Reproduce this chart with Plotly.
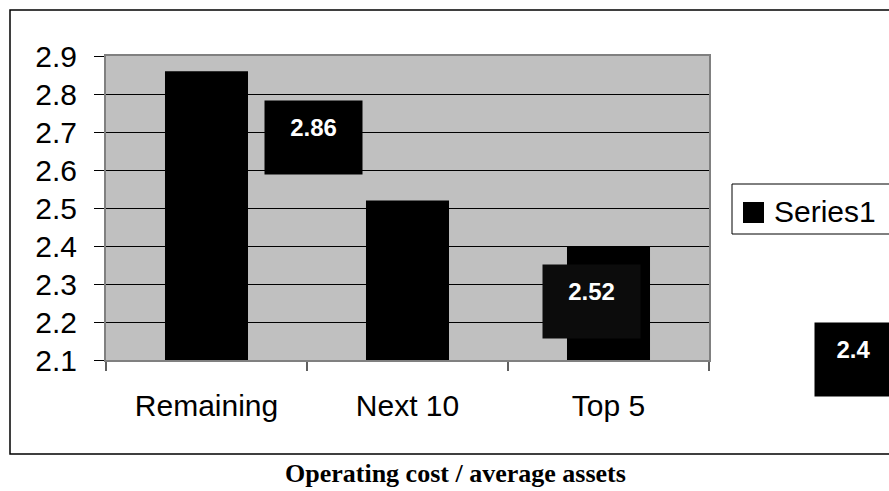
import plotly.graph_objects as go

# ---- data ----
categories = ["Remaining", "Next 10", "Top 5"]
values = [2.86, 2.52, 2.4]
label_texts = ["2.86", "2.52", "2.4"]
series_name = "Series1"
caption = "Operating cost / average assets"
y_ticks = [2.1, 2.2, 2.3, 2.4, 2.5, 2.6, 2.7, 2.8, 2.9]

# ---- layout geometry (pixels) ----
W, H = 889, 491
L, R, T, B = 106, 180, 56, 131
PW, PH = W - L - R, H - T - B


def px(xp):
    return (xp - L) / PW


def py(yp):
    return (H - B - yp) / PH


SANS = "Liberation Sans, Arial, sans-serif"
SERIF = "Liberation Serif, Times New Roman, serif"

fig = go.Figure()
fig.add_trace(go.Bar(
    x=categories, y=values, name=series_name,
    marker=dict(color="#000000", line=dict(width=0)),
    showlegend=False,
))

# data label boxes (dragged positions as in the original)
label_shift = [(57, -29), (134, -64), (205, -76)]
label_width = [97, 97, 77]
label_bg = ["#000000", "#0c0c0c", "#000000"]
pad = 13
annotations = []
for c, v, t, (dx, dy), w, bg in zip(categories, values, label_texts, label_shift, label_width, label_bg):
    annotations.append(dict(
        x=c, y=v, xref="x", yref="y", text="<b>%s</b>" % t, showarrow=False,
        xanchor="left", yanchor="top", xshift=dx, yshift=dy,
        width=w - 2 * pad, height=73 - 2 * pad, borderpad=pad, valign="top", align="center",
        bgcolor=bg, font=dict(family=SANS, size=24, color="white"),
    ))

# legend text
annotations.append(dict(
    x=px(772), y=py(211), xref="paper", yref="paper", text=series_name,
    showarrow=False, xanchor="left", yanchor="middle",
    font=dict(family=SANS, size=30, color="black"),
))
# caption
annotations.append(dict(
    x=px(455.5), y=py(473), xref="paper", yref="paper", text="<b>%s</b>" % caption,
    showarrow=False, xanchor="center", yanchor="middle",
    font=dict(family=SERIF, size=26, color="black"),
))

shapes = [
    # outer chart border
    dict(type="rect", xref="paper", yref="paper", x0=px(10), x1=px(900), y0=py(454), y1=py(10),
         line=dict(color="black", width=1.5), layer="below"),
    # legend box
    dict(type="rect", xref="paper", yref="paper", x0=px(732), x1=px(900), y0=py(234), y1=py(184),
         line=dict(color="black", width=1), fillcolor="white"),
    # legend key
    dict(type="rect", xref="paper", yref="paper", x0=px(743), x1=px(764), y0=py(223), y1=py(202),
         line=dict(width=0), fillcolor="black"),
]

fig.update_layout(
    width=W, height=H,
    margin=dict(l=L, r=R, t=T, b=B, autoexpand=False),
    paper_bgcolor="white", plot_bgcolor="#c0c0c0",
    bargap=0.587,
    showlegend=False,
    annotations=annotations, shapes=shapes,
    font=dict(family=SANS, size=30, color="black"),
)
fig.update_yaxes(
    range=[2.1, 2.9], autorange=False, tickvals=y_ticks, tickformat=".1f",
    showgrid=True, gridcolor="black", gridwidth=1,
    ticks="outside", ticklen=10, tickcolor="black", tickwidth=1,
    showline=True, linecolor="#808080", linewidth=2, mirror=True,
    tickfont=dict(family=SANS, size=30, color="black"),
    ticklabelstandoff=11, zeroline=False,
)
fig.update_xaxes(
    range=[-0.5, 2.5], autorange=False, tickangle=0,
    showgrid=False, tickson="boundaries",
    ticks="outside", ticklen=9, tickcolor="#606060", tickwidth=2,
    showline=True, linecolor="#808080", linewidth=2, mirror=True,
    tickfont=dict(family=SANS, size=30, color="black"),
    ticklabelstandoff=18,
)

fig.write_html("out.html")
